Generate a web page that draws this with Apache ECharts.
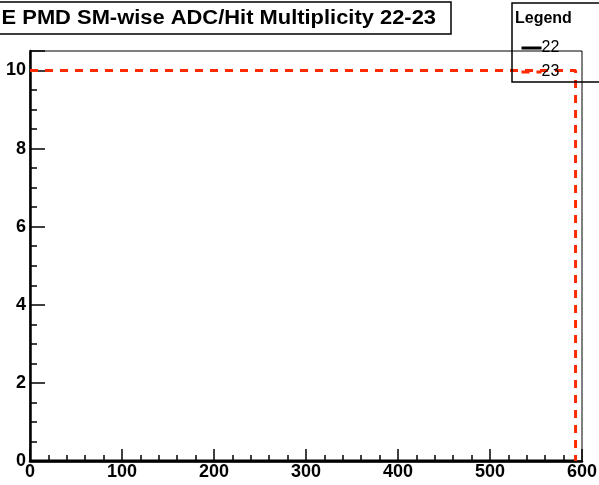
<!DOCTYPE html>
<html>
<head>
<meta charset="utf-8">
<script src="https://cdn.jsdelivr.net/npm/echarts@6/dist/echarts.min.js"></script>
<style>html,body{margin:0;padding:0;background:#fff;}#c{width:599px;height:485px;}</style>
</head>
<body>
<div id="c"></div>
<script>
var titleText = 'E PMD SM-wise ADC/Hit Multiplicity 22-23';
var seriesNames = ['22', '23'];
var xPoints = [0, 593, 593];
var values22 = [0, 0, 0];
var values23 = [10, 10, 0];
var xTicks = [0, 100, 200, 300, 400, 500, 600];
var yTicks = [0, 2, 4, 6, 8, 10];

function pairs(xs, ys) { return xs.map(function (x, i) { return [x, ys[i]]; }); }

var chart = echarts.init(document.getElementById('c'));
var labelFont = { color: '#000', fontFamily: 'Liberation Sans', fontWeight: 'bold', fontSize: 18 };
chart.setOption({
  animation: false,
  backgroundColor: '#fff',
  grid: { left: 30, right: 17, top: 51, bottom: 24, outerBoundsMode: 'none', containLabel: false, show: true, borderColor: '#000', borderWidth: 1, backgroundColor: 'transparent' },
  legend: {
    data: seriesNames,
    orient: 'vertical',
    left: 515, top: 35,
    itemWidth: 20, itemHeight: 14, itemGap: 8,
    itemStyle: { opacity: 0 },
    lineStyle: { width: 3 },
    textStyle: { fontFamily: 'Liberation Sans', fontSize: 16, color: '#000', padding: [0, 0, 0, -5] }
  },
  xAxis: {
    type: 'value', min: 0, max: 600, interval: 100,
    axisLine: { lineStyle: { color: '#000', width: 2.5 } },
    axisTick: { inside: true, length: 12, lineStyle: { color: '#000', width: 1.5 } },
    minorTick: { show: true, splitNumber: 5, length: 6, lineStyle: { color: '#000', width: 1.5 } },
    splitLine: { show: false },
    axisLabel: Object.assign({ margin: 2, formatter: function (v) { return xTicks.indexOf(v) >= 0 ? String(v) : ''; } }, labelFont)
  },
  yAxis: {
    type: 'value', min: 0, max: 10.5, interval: 2,
    axisLine: { show: true, lineStyle: { color: '#000', width: 2.5 } },
    axisTick: { show: true, inside: true, length: 15, lineStyle: { color: '#000', width: 1.5 } },
    minorTick: { show: true, splitNumber: 4, length: 7, lineStyle: { color: '#000', width: 1.5 } },
    splitLine: { show: false },
    axisLabel: Object.assign({ margin: 4, formatter: function (v) { return yTicks.indexOf(v) >= 0 ? String(v) : ''; } }, labelFont)
  },
  series: [
    { name: '22', type: 'line', data: pairs(xPoints, values22), symbol: 'none', color: '#000', lineStyle: { color: '#000', width: 3 } },
    { name: '23', type: 'line', data: pairs(xPoints, values23), symbol: 'none', color: '#ff2a00', lineStyle: { color: '#ff2a00', width: 3, type: [8, 7] } }
  ],
  graphic: [
    { type: 'rect', shape: { x: -5, y: 2, width: 456, height: 32 }, style: { fill: 'transparent', stroke: '#000', lineWidth: 1.5 }, z: 10 },
    { type: 'text', x: 436, y: 18, scaleX: 1.095, style: { text: titleText, fill: '#000', font: 'bold 20px "Liberation Sans"', align: 'right', verticalAlign: 'middle' }, z: 11 },
    { type: 'rect', shape: { x: 512, y: 3, width: 100, height: 79 }, style: { fill: 'transparent', stroke: '#000', lineWidth: 1.5 }, z: 10 },
    { type: 'text', x: 515, y: 19, style: { text: 'Legend', fill: '#000', font: 'bold 16px "Liberation Sans"', align: 'left', verticalAlign: 'middle' }, z: 11 }
  ]
});
</script>
</body>
</html>
